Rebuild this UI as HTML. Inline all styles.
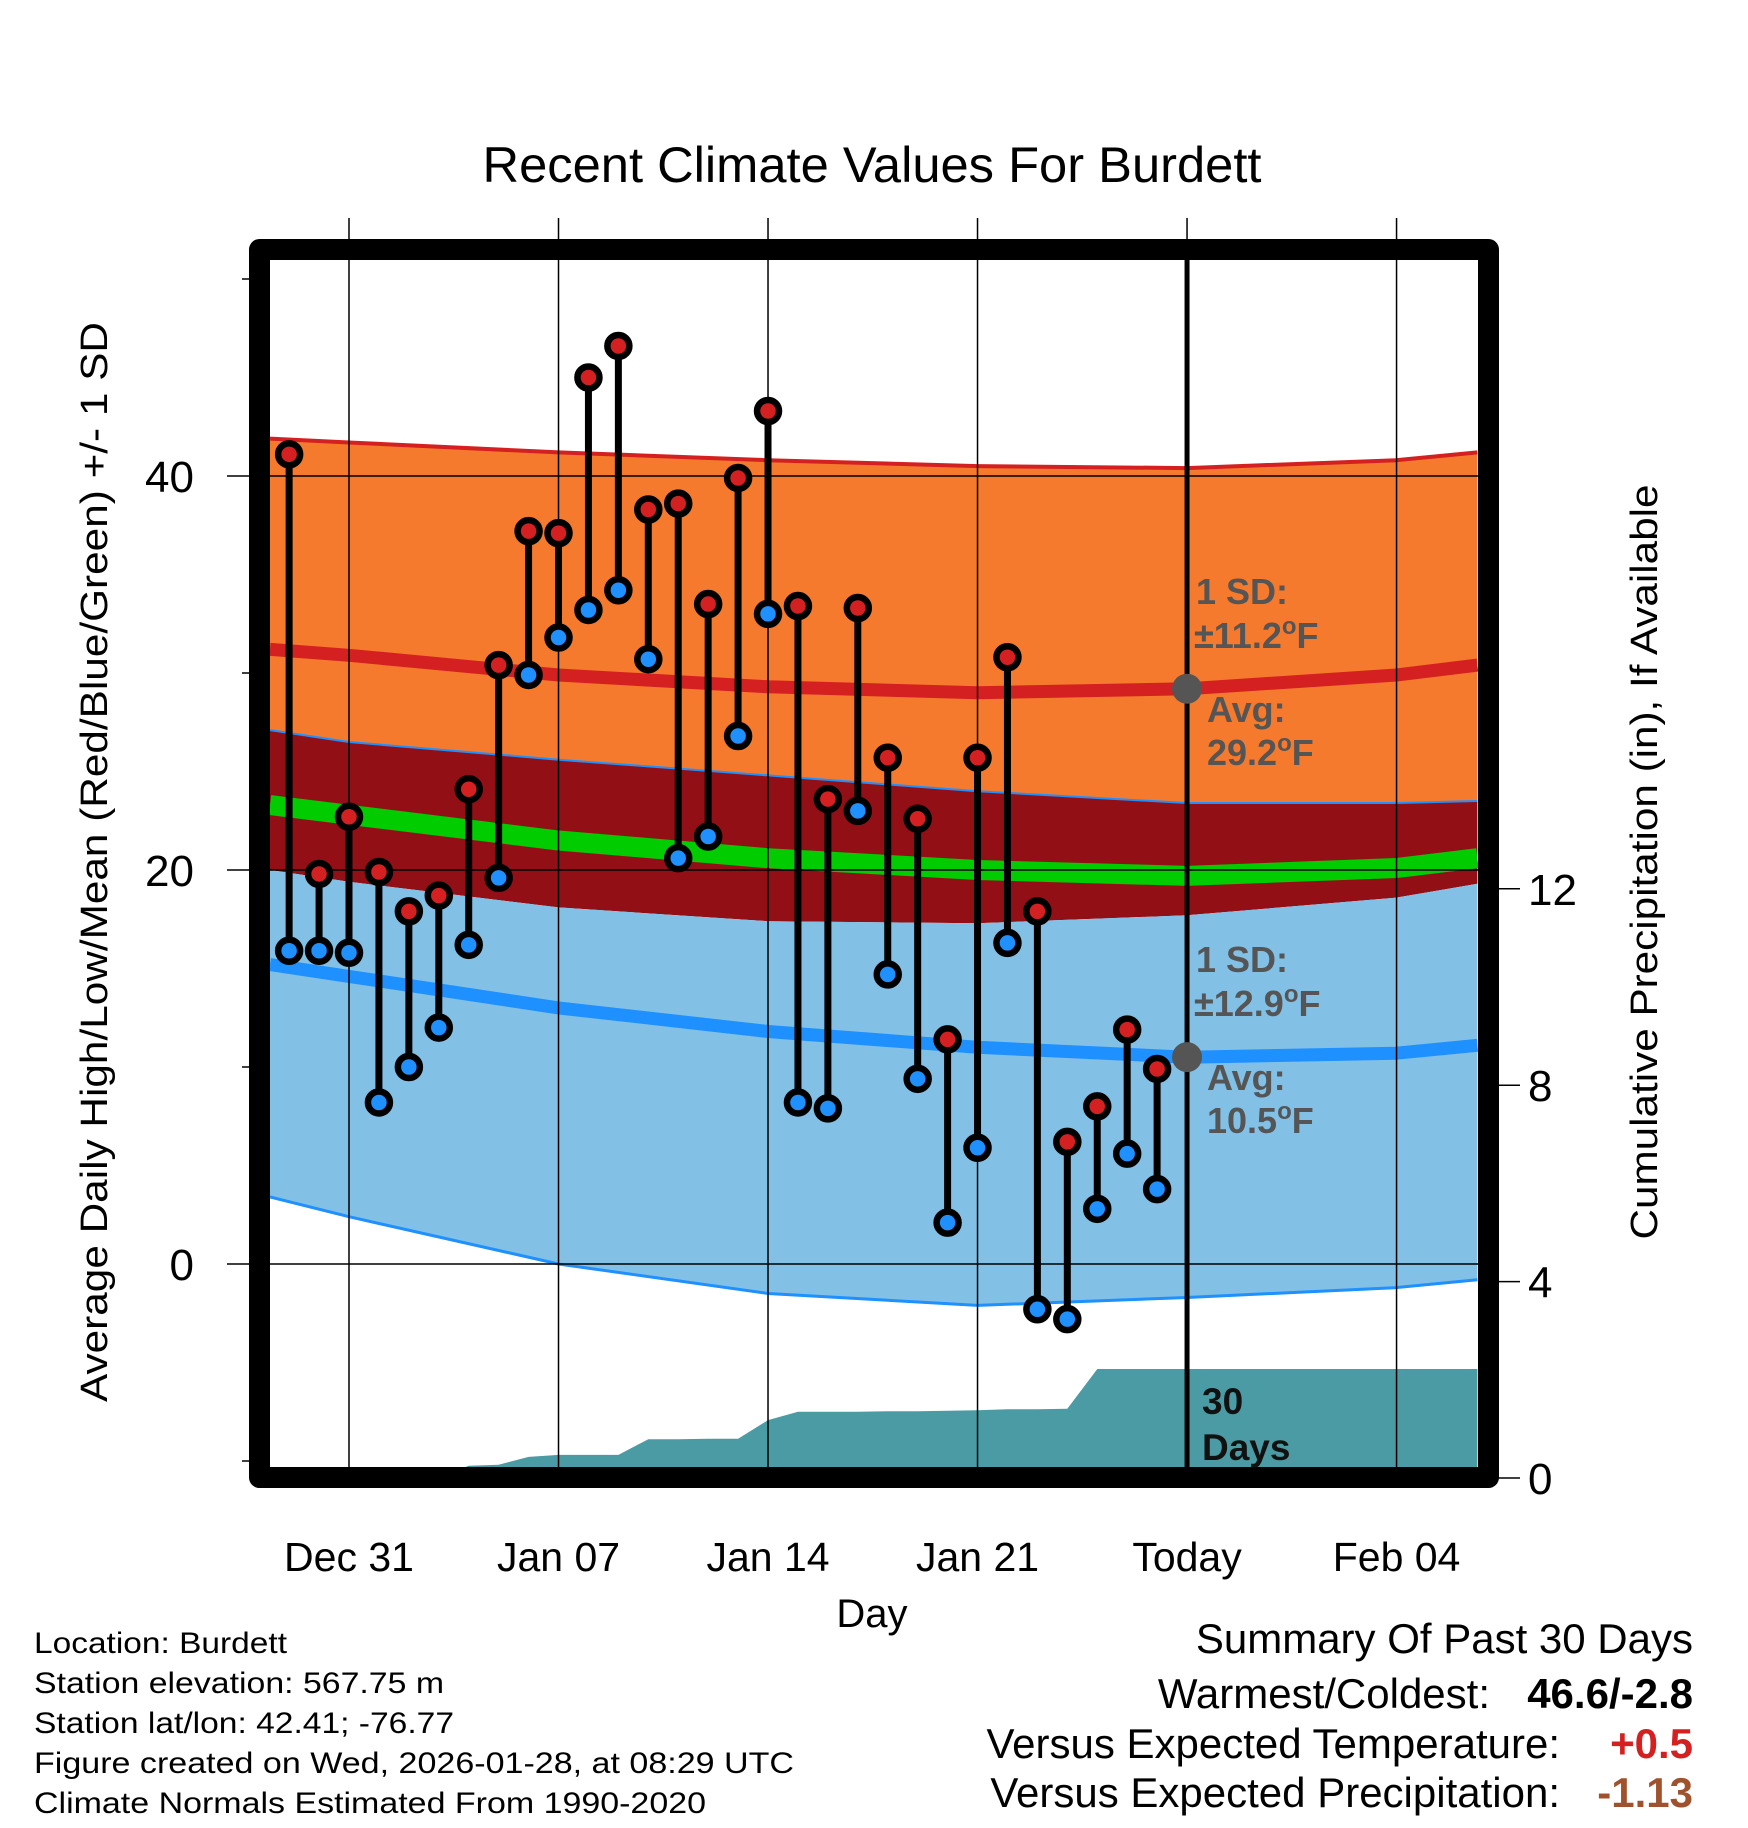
<!DOCTYPE html>
<html><head><meta charset="utf-8"><style>
html,body{margin:0;padding:0;background:#fff}
svg{display:block}
text{font-family:"Liberation Sans",sans-serif}
</style></head><body>
<svg id="chart" width="1748" height="1828" viewBox="0 0 1748 1828" xmlns="http://www.w3.org/2000/svg">
<defs><clipPath id="plotclip"><rect x="270" y="260" width="1208" height="1208"/></clipPath></defs>
<g id="bands" clip-path="url(#plotclip)"></g>
<g id="grid"></g>
<g id="marks"></g>
<g id="axes"></g>
<text x="872" y="182" text-anchor="middle" font-size="50" textLength="779" lengthAdjust="spacingAndGlyphs">Recent Climate Values For Burdett</text>
<text transform="translate(107,862) rotate(-90)" text-anchor="middle" font-size="38" textLength="1080" lengthAdjust="spacingAndGlyphs">Average Daily High/Low/Mean (Red/Blue/Green) +/- 1 SD</text>
<text transform="translate(1657,862) rotate(-90)" text-anchor="middle" font-size="38" textLength="755" lengthAdjust="spacingAndGlyphs">Cumulative Precipitation (in), If Available</text>
<text x="872" y="1627" text-anchor="middle" font-size="40">Day</text>
<g font-size="30">
<text x="34" y="1653" textLength="253" lengthAdjust="spacingAndGlyphs">Location: Burdett</text>
<text x="34" y="1693" textLength="410" lengthAdjust="spacingAndGlyphs">Station elevation: 567.75 m</text>
<text x="34" y="1733" textLength="420" lengthAdjust="spacingAndGlyphs">Station lat/lon: 42.41; -76.77</text>
<text x="34" y="1773" textLength="760" lengthAdjust="spacingAndGlyphs">Figure created on Wed, 2026-01-28, at 08:29 UTC</text>
<text x="34" y="1813" textLength="672" lengthAdjust="spacingAndGlyphs">Climate Normals Estimated From 1990-2020</text>
</g>
<g font-size="42">
<text x="1693" y="1653" text-anchor="end">Summary Of Past 30 Days</text>
<text x="1490" y="1708" text-anchor="end">Warmest/Coldest:</text>
<text x="1693" y="1708" text-anchor="end" font-weight="bold">46.6/-2.8</text>
<text x="1560" y="1758" text-anchor="end">Versus Expected Temperature:</text>
<text x="1693" y="1758" text-anchor="end" font-weight="bold" fill="#d42020">+0.5</text>
<text x="1560" y="1807" text-anchor="end">Versus Expected Precipitation:</text>
<text x="1693" y="1807" text-anchor="end" font-weight="bold" fill="#a0522d">-1.13</text>
</g>
<g id="annot" font-size="36" font-weight="bold" fill="#555">
<text x="1196" y="604">1 SD:</text>
<text x="1194" y="648">±11.2<tspan font-size="24" dy="-14">o</tspan><tspan dy="14">F</tspan></text>
<text x="1207" y="722">Avg:</text>
<text x="1207" y="765">29.2<tspan font-size="24" dy="-14">o</tspan><tspan dy="14">F</tspan></text>
<text x="1196" y="972">1 SD:</text>
<text x="1194" y="1016">±12.9<tspan font-size="24" dy="-14">o</tspan><tspan dy="14">F</tspan></text>
<text x="1207" y="1090">Avg:</text>
<text x="1207" y="1133">10.5<tspan font-size="24" dy="-14">o</tspan><tspan dy="14">F</tspan></text>
<text x="1202" y="1414" font-size="37" fill="#111">30</text>
<text x="1202" y="1460" font-size="37" fill="#111">Days</text>
</g>
</svg>
<script>
// band days (Dec 31 = 0)
const bandDays = [-2.64, 0, 7, 14, 21, 28, 35, 37.7];
const hiUpper = [41.9, 41.7, 41.2, 40.8, 40.5, 40.4, 40.8, 41.2];
const hiNormal = [31.2, 30.9, 29.9, 29.3, 29.0, 29.2, 29.9, 30.4];
const hiLower = [27.1, 26.5, 25.6, 24.8, 24.0, 23.4, 23.4, 23.5];
const meanNormal = [23.3, 22.8, 21.5, 20.6, 20.0, 19.7, 20.1, 20.6];
const loUpper = [20.0, 19.4, 18.1, 17.4, 17.3, 17.7, 18.6, 19.3];
const loNormal = [15.2, 14.6, 13.0, 11.8, 11.0, 10.5, 10.7, 11.1];
const loLower = [3.4, 2.4, 0.0, -1.5, -2.1, -1.7, -1.2, -0.8];
// daily observations, days -2 .. 27
const obsDays = [-2,-1,0,1,2,3,4,5,6,7,8,9,10,11,12,13,14,15,16,17,18,19,20,21,22,23,24,25,26,27];
const highs = [41.1,19.8,22.7,19.9,17.9,18.7,24.1,30.4,37.2,37.1,45.0,46.6,38.3,38.6,33.5,39.9,43.3,33.4,23.6,33.3,25.7,22.6,11.4,25.7,30.8,17.9,6.2,8.0,11.9,9.9];
const lows = [15.9,15.9,15.8,8.2,10.0,12.0,16.2,19.6,29.9,31.8,33.2,34.2,30.7,20.6,21.7,26.8,33.0,8.2,7.9,23.0,14.7,9.4,2.1,5.9,16.3,-2.3,-2.8,2.8,5.6,3.8];
const precip = [0,0,0,0,0,0,0.25,0.27,0.43,0.47,0.47,0.47,0.79,0.79,0.80,0.80,1.18,1.35,1.35,1.35,1.36,1.36,1.37,1.38,1.40,1.40,1.41,2.22,2.22,2.22];
const yTicks = [0, 20, 40];
const yMinor = [-10, 10, 30, 50];
const y2Ticks = [0, 4, 8, 12];
const xTickDays = [0, 7, 14, 21, 28, 35];
const xTickLabels = ["Dec 31","Jan 07","Jan 14","Jan 21","Today","Feb 04"];
const todayDay = 28;

const NS = "http://www.w3.org/2000/svg";
const X = d => 349 + d * 29.93;
const Y = v => 1264 - v * 19.7;
const P = v => 1478 - v * 49.1;
function mk(tag, attrs, parent){const e=document.createElementNS(NS,tag);for(const k in attrs)e.setAttribute(k,attrs[k]);parent.appendChild(e);return e;}
function line(arr){return bandDays.map((d,i)=>X(d).toFixed(1)+","+Y(arr[i]).toFixed(1)).join(" ");}
function area(top,bot){return line(top)+" "+bandDays.slice().reverse().map((d,j)=>{const i=bandDays.length-1-j;return X(d).toFixed(1)+","+Y(bot[i]).toFixed(1);}).join(" ");}

const bands=document.getElementById("bands");
let e;
e=mk("polygon",{points:area(hiUpper,hiLower),fill:"#f57a2e"},bands);


e=mk("polygon",{points:area(hiLower,loUpper),fill:"#930f16"},bands);


e=mk("polygon",{points:area(loUpper,loLower),fill:"#82c0e6"},bands);


e=mk("polyline",{points:line(hiUpper),fill:"none",stroke:"#d42020","stroke-width":4},bands);


e=mk("polyline",{points:line(hiLower),fill:"none",stroke:"#1e90ff","stroke-width":2},bands);


e=mk("polyline",{points:line(loLower),fill:"none",stroke:"#1e90ff","stroke-width":3},bands);


e=mk("polyline",{points:line(meanNormal),fill:"none",stroke:"#00cc00","stroke-width":20},bands);


e=mk("polyline",{points:line(hiNormal),fill:"none",stroke:"#d42020","stroke-width":13},bands);


e=mk("polyline",{points:line(loNormal),fill:"none",stroke:"#1e90ff","stroke-width":13},bands);


// precip area
let pp=obsDays.map((d,i)=>X(d).toFixed(1)+","+P(precip[i]).toFixed(1));
pp.unshift(X(-2.64).toFixed(1)+","+P(precip[0]).toFixed(1));
pp.push(X(37.7).toFixed(1)+","+P(precip[precip.length-1]).toFixed(1));
pp.push(X(37.7).toFixed(1)+",1480");
pp.push(X(-2.64).toFixed(1)+",1480");
e=mk("polygon",{points:pp.join(" "),fill:"#4a9ba3"},bands);



const grid=document.getElementById("grid");
xTickDays.forEach(d=>{
  e=mk("line",{x1:X(d),x2:X(d),y1:218,y2:1470,stroke:"#000","stroke-width":1.5},grid);
  
  
});
yTicks.forEach(v=>{
  e=mk("line",{x1:227,x2:1478,y1:Y(v),y2:Y(v),stroke:"#000","stroke-width":1.5},grid);
  
  
});

const marks=document.getElementById("marks");
obsDays.forEach((d,i)=>{
  e=mk("line",{x1:X(d),x2:X(d),y1:Y(highs[i]),y2:Y(lows[i]),stroke:"#000","stroke-width":7},marks);
  
  
});
obsDays.forEach((d,i)=>{
  e=mk("circle",{cx:X(d),cy:Y(highs[i]),r:11,fill:"#d42020",stroke:"#000","stroke-width":6.5},marks);
  
  
  e=mk("circle",{cx:X(d),cy:Y(lows[i]),r:11,fill:"#1e90ff",stroke:"#000","stroke-width":6.5},marks);
  
  
});
e=mk("line",{x1:X(todayDay),x2:X(todayDay),y1:260,y2:1470,stroke:"#000","stroke-width":5},marks);


[hiNormal,loNormal].forEach(arr=>{
  const i=bandDays.indexOf(todayDay);
  e=mk("circle",{cx:X(todayDay),cy:Y(arr[i]),r:15,fill:"#555"},marks);
  
  
});

const axes=document.getElementById("axes");
e=mk("rect",{x:259.5,y:249.5,width:1229,height:1228,fill:"none",stroke:"#000","stroke-width":21,"stroke-linejoin":"round"},axes);


yTicks.forEach(v=>{
  e=mk("text",{x:194,y:Y(v)+16,"text-anchor":"end","font-size":44},axes);
  e.textContent=String(v);
  
  
});
yMinor.forEach(v=>{
  e=mk("line",{x1:242,x2:252,y1:Y(v),y2:Y(v),stroke:"#000","stroke-width":1.5},axes);
  
  
});
y2Ticks.forEach(v=>{
  e=mk("line",{x1:1497,x2:1520,y1:P(v),y2:P(v),stroke:"#000","stroke-width":1.5},axes);
  
  
  e=mk("text",{x:1528,y:P(v)+16,"font-size":44},axes);
  e.textContent=String(v);
  
  
});
xTickDays.forEach((d,i)=>{
  e=mk("text",{x:X(d),y:1571,"text-anchor":"middle","font-size":41},axes);
  e.textContent=xTickLabels[i];
  
  
});
</script>
</body></html>
